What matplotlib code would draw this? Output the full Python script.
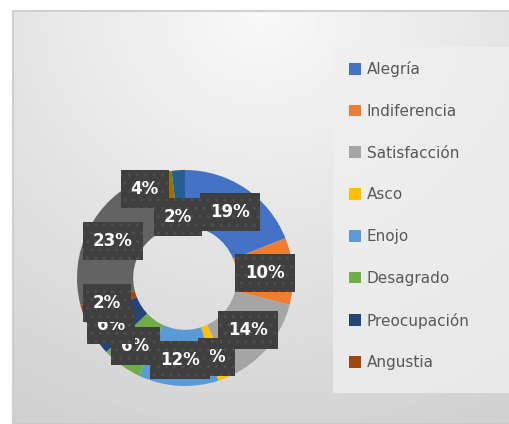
import numpy as np
import matplotlib
matplotlib.use("Agg")
import matplotlib.pyplot as plt
from matplotlib.patches import Rectangle

# data (Excel order, clockwise from 12 o'clock)
categorias = ["Alegría", "Indiferencia", "Satisfacción", "Asco", "Enojo",
              "Desagrado", "Preocupación", "Angustia"]
valores = [19, 10, 14, 2, 12, 6, 6, 2, 23, 4, 2]
etiquetas = ["19%", "10%", "14%", "%", "12%", "6%", "6%", "2%", "23%", "4%", "2%"]
colores = ["#4472C4", "#ED7D31", "#A5A5A5", "#FFC000", "#5B9BD5", "#70AD47",
           "#264478", "#9E480E", "#636363", "#997300", "#255E91"]

# label placement tweaks (radius factor, angle shift in deg) -- Excel "best fit"
lab_r = [0.74, 0.74, 0.76, 0.79, 0.76, 0.78, 0.81, 0.76, 0.75, 0.90, 0.57]
lab_da = [0, 0, 0, 0, 0, 0, 0, 0, 0, -10, -3]

W, H = 510, 424
fig = plt.figure(figsize=(W / 100, H / 100), dpi=100)
fig.patch.set_facecolor("white")

# gradient panel
bg = fig.add_axes([13 / W, 0, 1 - 13 / W, 1 - 11 / H])
yy, xx = np.mgrid[0:1:200j, 0:1:240j]
d = np.sqrt(((xx - 0.5) * 1.1) ** 2 + (yy * 1.0) ** 2)
img = 0.975 - 0.17 * np.clip(d, 0, 1.2) / 1.2
bg.imshow(img, cmap="gray", vmin=0, vmax=1, aspect="auto",
          extent=[0, 1, 1, 0], interpolation="bilinear")
bg.set_xlim(0, 1)
bg.set_ylim(1, 0)
bg.axis("off")
fig.add_artist(Rectangle((13 / W, 0), 1 - 13 / W, 1 - 11 / H,
                         transform=fig.transFigure, fill=False,
                         edgecolor="#c8c8c8", lw=1.2))

# legend box
fig.add_artist(Rectangle((333 / W, 1 - 393 / H), (W - 333) / W, (393 - 47) / H,
                         transform=fig.transFigure, facecolor="#f0f0f0",
                         edgecolor="none", alpha=0.75))

# donut
cx, cy, R = 185, 278, 108
ax = fig.add_axes([(cx - R) / W, (H - cy - R) / H, 2 * R / W, 2 * R / H])
wedges, _ = ax.pie(valores, colors=colores, startangle=90, counterclock=False,
                   radius=1, wedgeprops=dict(width=0.52, edgecolor="none"))
ax.set_xlim(-1, 1)
ax.set_ylim(-1, 1)
ax.set_aspect("equal")
ax.axis("off")

for i, w in enumerate(wedges):
    ang = np.deg2rad((w.theta1 + w.theta2) / 2 - lab_da[i])
    r = lab_r[i]
    ax.text(r * np.cos(ang), r * np.sin(ang), etiquetas[i], ha="center", va="center",
            color="white", fontsize=12, fontweight="bold", zorder=10 + i,
            bbox=dict(boxstyle="square,pad=0.6", facecolor="#3f3f3f",
                      edgecolor="#4e4e4e", hatch="..", lw=0))

leg = fig.legend(wedges[:8], categorias, loc="upper left",
                 bbox_to_anchor=(343 / W, 1 - 55 / H), frameon=False,
                 fontsize=11, handlelength=0.8, handleheight=0.8,
                 handletextpad=0.35, labelspacing=1.75, borderaxespad=0)
for t in leg.get_texts():
    t.set_color("#595959")

fig.savefig("out.png", dpi=100)
